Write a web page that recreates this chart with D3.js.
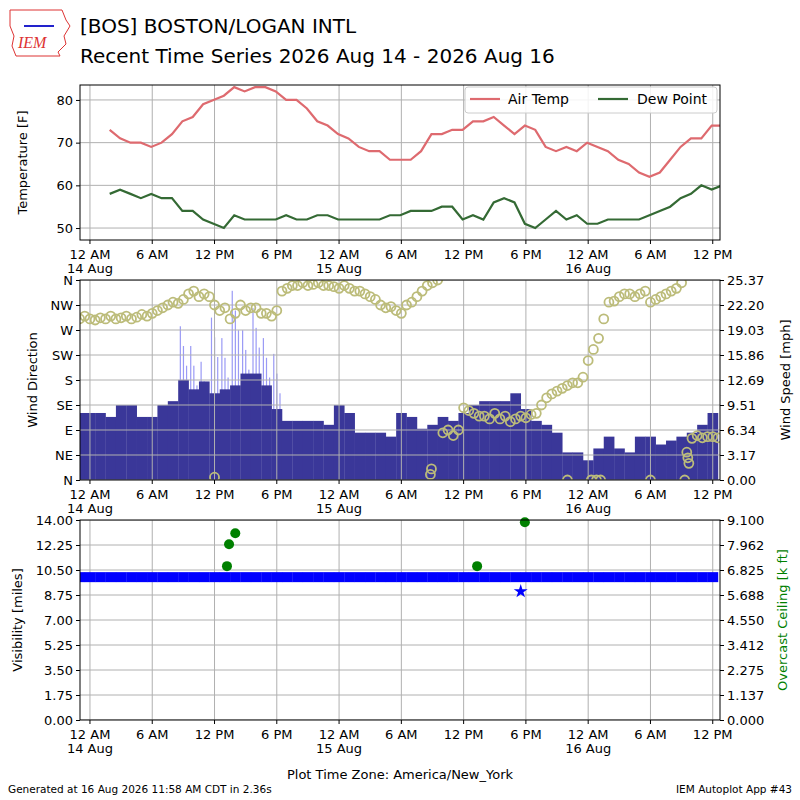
<!DOCTYPE html>
<html>
<head>
<meta charset="utf-8">
<script src="https://cdn.jsdelivr.net/npm/d3@7"></script>
<style>
  body { margin: 0; background: #fff; }
  text { font-family: "DejaVu Sans", sans-serif; fill: #000; }
</style>
</head>
<body>
<svg id="chart" width="800" height="800"></svg>
<script>
// hours since 12 AM 14 Aug (America/New_York); hourly obs at :54
var tempStart = 1.9;
var airTemp = [73,71,70,70,69,70,72,75,76,79,80,81,83,82,83,83,82,80,80,78,75,74,72,71,69,68,68,66,66,66,
  68,72,72,73,73,75,75,76,74,72,74,73,69,68,69,68,70,69,68,66,65,63,62,63,66,69,71,71,74,74];
var dewPoint = [58,59,58,57,58,57,57,54,54,52,51,50,53,52,52,52,52,53,52,52,53,53,52,52,52,52,52,53,
  53,54,54,54,55,55,52,53,52,56,57,56,51,50,52,54,52,53,51,51,52,52,52,52,53,54,55,57,58,60,59,60];

// wind speed [mph], hourly from hour -1
var windStart = -1;
var windSpeed = [8.5,8.5,8.5,8,9.5,9.5,8,8,9.5,10,12.7,11.5,12.5,11,11.5,12,13.5,13.5,12,9,7.5,7.5,7.5,7.5,7,9.5,8.5,6,6,6,5.5,
  8.5,8,6.5,7,8,7.5,8.5,9.5,10,10,10,11,9,7.5,7,6,3.5,3.5,2.5,4,5.5,4,3.5,5.5,5.5,4.5,5,5.5,6,7,8.5];
var windGust = [null,null,null,null,null,null,null,null,null,null,19.5,17,15,20.6,18,24,19,21.8,18,16,null,null,null,null,null,null,
  null,null,null,null,null,null,null,null,null,null,null,null,null,null,null,null,null,null,null,null,null,null,null,null,null,null,
  null,null,null,null,null,null,null,null,null,null];

// wind direction [deg], every half hour from hour -1
var dirStart = -1;
var windDir = [290,295,290,288,292,290,295,290,292,295,290,293,298,295,300,305,310,315,320,318,325,335,340,330,335,330,
  315,305,310,290,300,315,305,310,310,300,300,295,305,340,345,350,350,355,350,352,355,350,350,348,345,350,345,340,
  340,335,330,325,315,310,312,305,300,315,320,330,340,350,355,360,85,90,80,90,130,125,120,115,115,110,120,110,
  115,105,110,115,112,118,120,135,148,155,160,165,170,175,175,185,215,235,255,290,320,322,330,335,335,330,335,340,
  320,325,330,335,340,345,355,50,75,80,76,78,78,76];
var dirExtraHour = [12, 32.8, 32.9, 46, 48.3, 48.8, 49.2, 54, 57.3, 57.6, 57.7];
var dirExtraDir = [5, 10, 20, 0, 0, 0, 0, 0, 0, 40, 30];

// visibility [miles], hourly from hour -1
var visStart = -1;
var visibility = [10,10,10,10,10,10,10,10,10,10,10,10,10,10,10,10,10,10,10,10,10,10,10,10,10,10,10,10,10,10,10,
  10,10,10,10,10,10,10,10,10,10,10,10,10,10,10,10,10,10,10,10,10,10,10,10,10,10,10,10,10,10,10];
var visLowHour = [41.5];
var visLow = [9.0];
var ceilHour = [13.2, 13.4, 14.0, 37.3, 41.9];
var ceiling = [7.0, 8.0, 8.5, 7.0, 9.0];

var tickHours = [0,6,12,18,24,30,36,42,48,54,60];
var tickLabels = ["12 AM","6 AM","12 PM","6 PM","12 AM","6 AM","12 PM","6 PM","12 AM","6 AM","12 PM"];
var tickDays = ["14 Aug","","","","15 Aug","","","","16 Aug","",""];
var dirLabels = ["N","NE","E","SE","S","SW","W","NW","N"];

var svg = d3.select('#chart');
var left = 80, right = 720;
var x = d3.scaleLinear().domain([-0.96, 60.7]).range([left, right]);

// header
svg.append('text').attr('x', 80).attr('y', 33).style('font-size', '20px').text('[BOS] BOSTON/LOGAN INTL');
svg.append('text').attr('x', 80).attr('y', 63).style('font-size', '20px').text('Recent Time Series 2026 Aug 14 - 2026 Aug 16');
var logo = svg.append('g').attr('transform', 'translate(8,6)');
logo.append('path').attr('d', 'M2,4 L54,4 L58,14 L62,20 L56,30 L58,38 L50,46 L52,50 L8,50 L4,40 L6,30 L2,20 Z')
  .attr('fill', 'none').attr('stroke', '#d33').attr('stroke-width', 1);
logo.append('line').attr('x1', 16).attr('y1', 20).attr('x2', 46).attr('y2', 20).attr('stroke', '#22c').attr('stroke-width', 2);
logo.append('text').attr('x', 10).attr('y', 42).style('font-family', 'Liberation Serif, serif')
  .style('font-style', 'italic').style('font-size', '16px').style('fill', '#d33').text('IEM');

function timeAxis(y) {
  var g = svg.append('g');
  tickHours.forEach(function(h, i) {
    g.append('line').attr('x1', x(h)).attr('x2', x(h)).attr('y1', y).attr('y2', y + 4).attr('stroke', '#000');
    g.append('text').attr('x', x(h)).attr('y', y + 19).attr('text-anchor', 'middle').style('font-size', '13px').text(tickLabels[i]);
    if (tickDays[i]) {
      g.append('text').attr('x', x(h)).attr('y', y + 33).attr('text-anchor', 'middle').style('font-size', '13px').text(tickDays[i]);
    }
  });
}

function grid(g, top, bottom, yTicks, yScale) {
  tickHours.forEach(function(h) {
    g.append('line').attr('x1', x(h)).attr('x2', x(h)).attr('y1', top).attr('y2', bottom).attr('stroke', '#b0b0b0');
  });
  yTicks.forEach(function(v) {
    g.append('line').attr('x1', left).attr('x2', right).attr('y1', yScale(v)).attr('y2', yScale(v)).attr('stroke', '#b0b0b0');
  });
}

function frame(top, bottom) {
  svg.append('rect').attr('x', left).attr('y', top).attr('width', right - left).attr('height', bottom - top)
    .attr('fill', 'none').attr('stroke', '#000');
}

function yLabel(text, xpos, top, bottom, color) {
  svg.append('text').attr('transform', 'translate(' + xpos + ',' + ((top + bottom) / 2) + ') rotate(-90)')
    .attr('text-anchor', 'middle').style('font-size', '13px').style('fill', color || '#000').text(text);
}

function clip(id, top, bottom) {
  svg.append('clipPath').attr('id', id).append('rect').attr('x', left).attr('y', top).attr('width', right - left).attr('height', bottom - top);
  return svg.append('g').attr('clip-path', 'url(#' + id + ')');
}

// ---- panel 1: temperature
var t1 = 85, b1 = 240;
var yT = d3.scaleLinear().domain([47.2, 83.5]).range([b1, t1]);
var p1 = clip('c1', t1, b1);
grid(p1, t1, b1, [50, 60, 70, 80], yT);
var tLine = d3.line().x(function(d, i) { return x(tempStart + i); }).y(function(d) { return yT(d); });
p1.append('path').datum(airTemp).attr('d', tLine).attr('fill', 'none').attr('stroke', '#de6a6f').attr('stroke-width', 2.2);
p1.append('path').datum(dewPoint).attr('d', tLine).attr('fill', 'none').attr('stroke', '#346a34').attr('stroke-width', 2.2);
frame(t1, b1);
svg.append('g').attr('transform', 'translate(' + left + ',0)').call(d3.axisLeft(yT).tickValues([50, 60, 70, 80]).tickSize(4))
  .call(function(g) { g.select('.domain').remove(); g.selectAll('text').style('font-size', '13px'); });
yLabel('Temperature [F]', 27, t1, b1);
timeAxis(b1);
var lg = svg.append('g');
lg.append('rect').attr('x', 465).attr('y', 87).attr('width', 252).attr('height', 26).attr('rx', 3)
  .attr('fill', '#fff').attr('fill-opacity', 0.85).attr('stroke', '#ccc');
lg.append('line').attr('x1', 470).attr('x2', 500).attr('y1', 99).attr('y2', 99).attr('stroke', '#de6a6f').attr('stroke-width', 2.2);
lg.append('text').attr('x', 508).attr('y', 104).style('font-size', '14px').text('Air Temp');
lg.append('line').attr('x1', 598).attr('x2', 628).attr('y1', 99).attr('y2', 99).attr('stroke', '#346a34').attr('stroke-width', 2.2);
lg.append('text').attr('x', 637).attr('y', 104).style('font-size', '14px').text('Dew Point');

// ---- panel 2: wind
var t2 = 280, b2 = 480;
var yDir = d3.scaleLinear().domain([0, 360]).range([b2, t2]);
var ySpd = d3.scaleLinear().domain([0, 25.37]).range([b2, t2]);
var spdTicks = d3.range(9).map(function(i) { return 25.37 * i / 8; });
var p2 = clip('c2', t2, b2);
var bw = x(1) - x(0);
windGust.forEach(function(g, i) {
  if (g == null) return;
  [0.15, 0.45, 0.75].forEach(function(f, k) {
    var v = g - k * 2.5;
    p2.append('rect').attr('x', x(windStart + i - 0.5 + f)).attr('width', 1.2)
      .attr('y', ySpd(v)).attr('height', b2 - ySpd(v)).attr('fill', '#9a9af5');
  });
});
p2.selectAll('rect.spd').data(windSpeed).enter().append('rect').attr('class', 'spd')
  .attr('x', function(d, i) { return x(windStart + i - 0.5); }).attr('width', bw + 0.3)
  .attr('y', function(d) { return ySpd(d); }).attr('height', function(d) { return b2 - ySpd(d); })
  .attr('fill', '#3a3799');
grid(p2, t2, b2, d3.range(0, 361, 45), yDir);
p2.selectAll('circle.dir').data(windDir).enter().append('circle').attr('class', 'dir')
  .attr('cx', function(d, i) { return x(dirStart + i * 0.5); }).attr('cy', function(d) { return yDir(d); })
  .attr('r', 4.5).attr('fill', 'none').attr('stroke', '#bcbc7a').attr('stroke-width', 1.8);
p2.selectAll('circle.dx').data(dirExtraDir).enter().append('circle').attr('class', 'dx')
  .attr('cx', function(d, i) { return x(dirExtraHour[i]); }).attr('cy', function(d) { return yDir(d); })
  .attr('r', 4.5).attr('fill', 'none').attr('stroke', '#bcbc7a').attr('stroke-width', 1.8);
frame(t2, b2);
svg.append('g').attr('transform', 'translate(' + left + ',0)')
  .call(d3.axisLeft(yDir).tickValues(d3.range(0, 361, 45)).tickSize(4).tickFormat(function(d, i) { return dirLabels[i]; }))
  .call(function(g) { g.select('.domain').remove(); g.selectAll('text').style('font-size', '13px'); });
svg.append('g').attr('transform', 'translate(' + right + ',0)')
  .call(d3.axisRight(ySpd).tickValues(spdTicks).tickSize(4).tickFormat(d3.format('.2f')))
  .call(function(g) { g.select('.domain').remove(); g.selectAll('text').style('font-size', '13px'); });
yLabel('Wind Direction', 37, t2, b2);
yLabel('Wind Speed [mph]', 790, t2, b2);
timeAxis(b2);

// ---- panel 3: visibility / ceiling
var t3 = 520, b3 = 720;
var yVis = d3.scaleLinear().domain([0, 14]).range([b3, t3]);
var yCeil = d3.scaleLinear().domain([0, 9.1]).range([b3, t3]);
var visTicks = d3.range(9).map(function(i) { return 1.75 * i; });
var ceilTicks = d3.range(9).map(function(i) { return 9.1 * i / 8; });
var p3 = clip('c3', t3, b3);
grid(p3, t3, b3, visTicks, yVis);
p3.selectAll('rect.vis').data(visibility).enter().append('rect').attr('class', 'vis')
  .attr('x', function(d, i) { return x(visStart + i - 0.5); }).attr('width', bw + 0.3)
  .attr('y', function(d) { return yVis(d) - 5; }).attr('height', 10).attr('fill', '#0000ff');
var star = d3.symbol().type(d3.symbolStar).size(60);
p3.selectAll('path.vlow').data(visLow).enter().append('path').attr('class', 'vlow')
  .attr('transform', function(d, i) { return 'translate(' + x(visLowHour[i]) + ',' + yVis(d) + ')'; })
  .attr('d', star).attr('fill', '#0000ff');
svg.selectAll('circle.ceil').data(ceiling).enter().append('circle').attr('class', 'ceil')
  .attr('cx', function(d, i) { return x(ceilHour[i]); }).attr('cy', function(d) { return yCeil(d); })
  .attr('r', 5).attr('fill', '#008000');
frame(t3, b3);
svg.append('g').attr('transform', 'translate(' + left + ',0)')
  .call(d3.axisLeft(yVis).tickValues(visTicks).tickSize(4).tickFormat(d3.format('.2f')))
  .call(function(g) { g.select('.domain').remove(); g.selectAll('text').style('font-size', '13px'); });
svg.append('g').attr('transform', 'translate(' + right + ',0)')
  .call(d3.axisRight(yCeil).tickValues(ceilTicks).tickSize(4).tickFormat(d3.format('.3f')))
  .call(function(g) { g.select('.domain').remove(); g.selectAll('text').style('font-size', '13px'); });
yLabel('Visibility [miles]', 22, t3, b3);
yLabel('Overcast Ceiling [k ft]', 787, t3, b3, '#008000');
timeAxis(b3);

svg.append('text').attr('x', 400).attr('y', 779).attr('text-anchor', 'middle').style('font-size', '13px')
  .text('Plot Time Zone: America/New_York');
svg.append('text').attr('x', 8).attr('y', 793).style('font-size', '10.5px').text('Generated at 16 Aug 2026 11:58 AM CDT in 2.36s');
svg.append('text').attr('x', 792).attr('y', 793).attr('text-anchor', 'end').style('font-size', '10.5px').text('IEM Autoplot App #43');
</script>
</body>
</html>
